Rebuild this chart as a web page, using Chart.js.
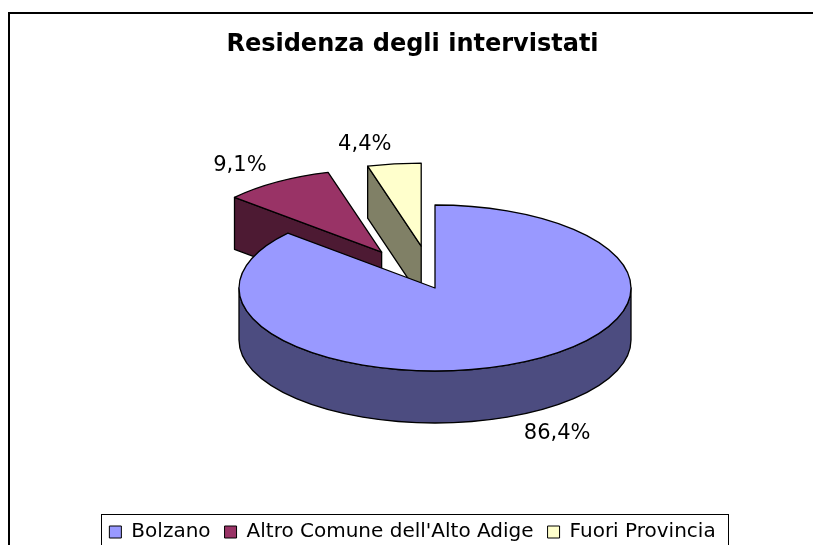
<!DOCTYPE html>
<html>
<head>
<meta charset="utf-8">
<title>Residenza degli intervistati</title>
<script src="https://cdn.jsdelivr.net/npm/chart.js@4.4.0/dist/chart.umd.min.js"></script>
<style>
  html, body { margin: 0; padding: 0; background: #fff; }
  canvas { display: block; }
</style>
</head>
<body>
<canvas id="residenzaChart" width="813" height="545"></canvas>
<script>
const categories = ["Bolzano", "Altro Comune dell'Alto Adige", "Fuori Provincia"];
const shares = [86.4, 9.1, 4.4];

const topColors = ["#9999FF", "#993366", "#FFFFCC"];
const sideColors = ["#4C4C80", "#4D1A33", "#808066"];
const explode = [0, 100, 100]; // slice pull-out, px in the un-tilted plane

const TILT = 83 / 196;   // vertical squash of the pie top
const DEPTH = 52;        // thickness of the 3d pie
const PIE_CENTER = { x: 435, y: 288 };
const FONT = "'DejaVu Sans', Verdana, sans-serif";

const fmtPct = (v) => v.toFixed(1).replace(".", ",") + "%";

// geometry of one slice, projected on screen
function geom(el, i) {
  const mid = (el.startAngle + el.endAngle) / 2;
  const ox = Math.cos(mid) * explode[i];
  const oy = Math.sin(mid) * explode[i];
  return {
    mid, ox, oy,
    a0: el.startAngle, a1: el.endAngle, r: el.outerRadius,
    cx: PIE_CENTER.x + ox,
    cy: PIE_CENTER.y + oy * TILT,
  };
}

function pt(g, a) {
  return { x: g.cx + Math.cos(a) * g.r, y: g.cy + Math.sin(a) * g.r * TILT };
}

function drawSides(ctx, g, color) {
  ctx.save();
  ctx.fillStyle = color;
  ctx.strokeStyle = "#000";
  ctx.lineWidth = 1.3;
  ctx.lineJoin = "round";
  // cut faces: start face shows when cos(a0) < 0, end face when cos(a1) > 0
  const faces = [[g.a0, Math.cos(g.a0) < -1e-6], [g.a1, Math.cos(g.a1) > 1e-6]];
  faces.forEach(([a, visible]) => {
    if (!visible) return;
    const p = pt(g, a);
    ctx.beginPath();
    ctx.moveTo(g.cx, g.cy);
    ctx.lineTo(p.x, p.y);
    ctx.lineTo(p.x, p.y + DEPTH);
    ctx.lineTo(g.cx, g.cy + DEPTH);
    ctx.closePath();
    ctx.fill();
    ctx.stroke();
  });
  // outer wall, only the front half is seen
  const s = Math.max(g.a0, 0);
  const e = Math.min(g.a1, Math.PI);
  if (e > s) {
    ctx.beginPath();
    ctx.ellipse(g.cx, g.cy, g.r, g.r * TILT, 0, s, e);
    ctx.ellipse(g.cx, g.cy + DEPTH, g.r, g.r * TILT, 0, e, s, true);
    ctx.closePath();
    ctx.fill();
    ctx.stroke();
  }
  ctx.restore();
}

function outlineTop(ctx, g) {
  ctx.save();
  ctx.strokeStyle = "#000";
  ctx.lineWidth = 1.3;
  ctx.lineJoin = "round";
  ctx.beginPath();
  ctx.moveTo(g.cx, g.cy);
  ctx.ellipse(g.cx, g.cy, g.r, g.r * TILT, 0, g.a0, g.a1);
  ctx.closePath();
  ctx.stroke();
  ctx.restore();
}

const pie3d = {
  id: "pie3d",
  beforeDraw(chart) {
    const ctx = chart.ctx;
    ctx.save();
    ctx.fillStyle = "#fff";
    ctx.fillRect(0, 0, chart.width, chart.height);
    ctx.strokeStyle = "#000";
    ctx.lineWidth = 2;
    ctx.strokeRect(9, 13, chart.width + 20, chart.height + 20);
    ctx.restore();
  },
  beforeDatasetDraw(chart, args) {
    const ctx = chart.ctx;
    const arcs = args.meta.data;
    const order = arcs.map((_, i) => i)
      .sort((a, b) => Math.sin(geom(arcs[a], a).mid) - Math.sin(geom(arcs[b], b).mid));
    order.forEach((i) => {
      const el = arcs[i];
      const g = geom(el, i);
      drawSides(ctx, g, sideColors[i]);
      // top face drawn by the arc element itself, in the tilted plane
      ctx.save();
      ctx.translate(PIE_CENTER.x, PIE_CENTER.y);
      ctx.scale(1, TILT);
      ctx.translate(-el.x + g.ox, -el.y + g.oy);
      el.draw(ctx);
      ctx.restore();
      outlineTop(ctx, g);
    });
    return false;
  },
  afterDatasetsDraw(chart) {
    const ctx = chart.ctx;
    const arcs = chart.getDatasetMeta(0).data;
    ctx.save();
    ctx.font = "21px " + FONT;
    ctx.fillStyle = "#000";
    ctx.textBaseline = "middle";
    arcs.forEach((el, i) => {
      const g = geom(el, i);
      const c = Math.cos(g.mid), s = Math.sin(g.mid);
      const ax = g.cx + c * g.r * 1.1;
      const ay = g.cy + s * g.r * TILT * 1.1 + (s > 0 ? DEPTH : 0);
      ctx.textAlign = c >= 0 ? "left" : "right";
      ctx.fillText(fmtPct(shares[i]), ax, ay + s * 11);
    });
    ctx.restore();
  },
  afterDraw(chart) {
    // frame round the legend
    const boxes = chart.legend.legendHitBoxes;
    if (!boxes || !boxes.length) return;
    const last = boxes[boxes.length - 1];
    const left = Math.round(boxes[0].left - 8);
    const right = Math.round(last.left + last.width + 12);
    const top = Math.round(boxes[0].top + boxes[0].height / 2 - 18);
    const ctx = chart.ctx;
    ctx.save();
    ctx.strokeStyle = "#000";
    ctx.lineWidth = 1;
    ctx.strokeRect(left + 0.5, top + 0.5, right - left, chart.height);
    ctx.restore();
  },
};

const baseLabels = Chart.overrides.doughnut.plugins.legend.labels.generateLabels;

new Chart(document.getElementById("residenzaChart"), {
  type: "pie",
  data: {
    labels: categories,
    datasets: [{
      data: shares,
      backgroundColor: topColors,
      borderWidth: 0,
      radius: 196,
    }],
  },
  options: {
    responsive: false,
    devicePixelRatio: 1,
    animation: false,
    events: [],
    layout: { padding: { left: 12, right: 0, top: 0, bottom: -7 } },
    plugins: {
      title: {
        display: true,
        text: "Residenza degli intervistati",
        color: "#000",
        font: { family: FONT, size: 24, weight: "bold" },
        padding: { top: 30, bottom: 10 },
      },
      legend: {
        position: "bottom",
        labels: {
          color: "#000",
          font: { family: FONT, size: 20 },
          boxWidth: 12,
          boxHeight: 12,
          padding: 14,
          generateLabels: (chart) => baseLabels(chart).map((l) => ({
            ...l, strokeStyle: "#000", lineWidth: 1,
          })),
        },
      },
      tooltip: { enabled: false },
    },
  },
  plugins: [pie3d],
});
</script>
</body>
</html>
